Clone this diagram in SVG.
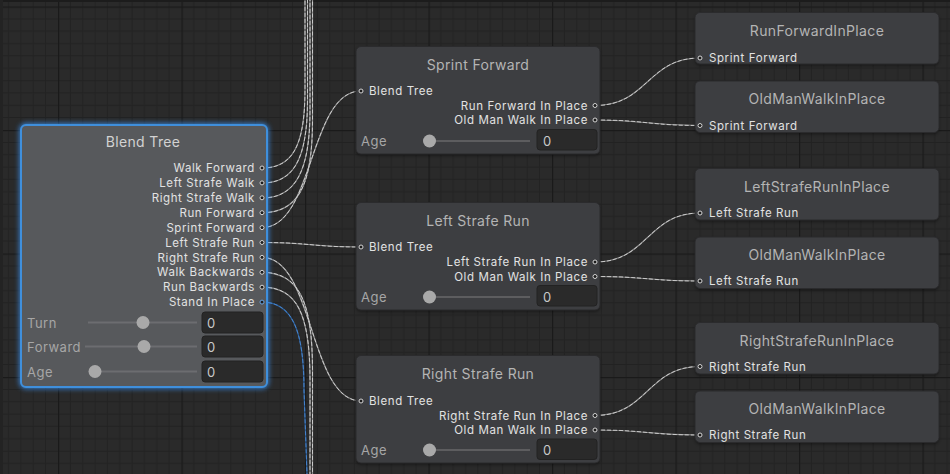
<svg xmlns="http://www.w3.org/2000/svg" xmlns:xlink="http://www.w3.org/1999/xlink" width="950" height="474" viewBox="0 0 950 474">
  <defs>
    <style>
      text { font-family: Inter, "Noto Sans", "Liberation Sans", sans-serif; }
      .node { fill: #3d3e41; stroke: #2b2b2d; stroke-width: 1; }
      .sel { fill: #57595c; stroke: #3f8fdc; stroke-width: 2; }
      .title { font-size: 14px; fill: #b4b4b4; text-anchor: middle; letter-spacing: 0.35px; }
      .title-sel { font-size: 14px; fill: #d2d2d2; text-anchor: middle; letter-spacing: 0.35px; }
      .port { font-size: 11.5px; fill: #e2e2e2; letter-spacing: 0.6px; }
      .port-r { font-size: 11.5px; fill: #e2e2e2; letter-spacing: 0.6px; text-anchor: end; }
      .label { font-size: 13px; fill: #a6a6a6; letter-spacing: 0.5px; }
      .value { font-size: 13px; fill: #c8c8c8; }
      .dot { fill: #1c1c1c; stroke: #d4d4d4; stroke-width: 1; }
      .dot-blue { fill: #1c1c1c; stroke: #6aa6e6; stroke-width: 1; }
      .track { stroke: #5d5d5f; stroke-width: 2; }
      .track-sel { stroke: #6c6d70; stroke-width: 2; }
      .knob { fill: #a9a9a9; }
      .field { fill: #2a2a2a; stroke: #222; stroke-width: 1; }
      .wire-base { fill: none; stroke: #8a8a8a; stroke-width: 1.2; }
      .wire-dash { fill: none; stroke: #d2d2d2; stroke-width: 0.9; stroke-dasharray: 4 2; }
      .wire-blue-base { fill: none; stroke: #2c5e98; stroke-width: 1.2; }
      .wire-blue-dash { fill: none; stroke: #4a88d2; stroke-width: 0.9; stroke-dasharray: 4 2; }
    </style>
    <pattern id="grid" patternUnits="userSpaceOnUse" x="58" y="6.5" width="123.5" height="123.5">
      <rect width="123.5" height="123.5" fill="#2a2a2a"/>
      <g stroke="#222222" stroke-width="1">
        <path d="M12.35 0V123.5M24.7 0V123.5M37.05 0V123.5M49.4 0V123.5M61.75 0V123.5M74.1 0V123.5M86.45 0V123.5M98.8 0V123.5M111.15 0V123.5"/>
        <path d="M0 12.35H123.5M0 24.7H123.5M0 37.05H123.5M0 49.4H123.5M0 61.75H123.5M0 74.1H123.5M0 86.45H123.5M0 98.8H123.5M0 111.15H123.5"/>
      </g>
      <path d="M0.5 0V123.5M0 0.5H123.5" stroke="#1a1a1a" stroke-width="1.5"/>
    </pattern>
    <filter id="glow" x="-10%" y="-10%" width="120%" height="120%">
      <feGaussianBlur stdDeviation="2.5"/>
    </filter>
    <filter id="shadow" x="-10%" y="-10%" width="120%" height="130%">
      <feGaussianBlur stdDeviation="1.5"/>
    </filter>

    <!-- wire geometry -->
    <path id="w1" d="M262,168 C290,168 305,150 305,90 L305,0"/>
    <path id="w2" d="M262,183 C292,183 307.5,162 307.5,100 L307.5,0"/>
    <path id="w3" d="M262,198 C295,198 310,172 310,110 L310,0"/>
    <path id="w4" d="M262,212.7 C298,212.7 312.5,186 312.5,120 L312.5,0"/>
    <path id="w5" d="M262,227.6 C314,227.6 309,91 361,91"/>
    <path id="w6" d="M262,242.5 C312,242.5 311,247 361,247"/>
    <path id="w7" d="M262,257.4 C314,257.4 309,401 361,401"/>
    <path id="w8" d="M262,272.3 C298,272.3 312.5,300 312.5,370 L312.5,474"/>
    <path id="w9" d="M262,287.2 C296,287.2 310,312 310,380 L310,474"/>
    <path id="w11" d="M595,105.5 C648,105.5 647,58 700,58"/>
    <path id="w12" d="M595,120 C648,120 647,125.5 700,125.5"/>
    <path id="w13" d="M595,262 C648,262 647,213 700,213"/>
    <path id="w14" d="M595,276.5 C648,276.5 647,281 700,281"/>
    <path id="w15" d="M595,415.5 C648,415.5 647,366.5 700,366.5"/>
    <path id="w16" d="M595,430 C648,430 647,435 700,435"/>
    <path id="w10" d="M262,302.1 C292,302.1 304,330 304,390 L307,474"/>
  </defs>

  <!-- canvas -->
  <rect width="950" height="474" fill="url(#grid)"/>
  <rect width="950" height="2" fill="#1c1c1c"/>
  <rect width="3" height="474" fill="#232323"/>

  <!-- connectors -->
  <g id="connectors">
    <g class="wire-base">
      <use xlink:href="#w1"/><use xlink:href="#w2"/><use xlink:href="#w3"/><use xlink:href="#w4"/>
      <use xlink:href="#w5"/><use xlink:href="#w6"/><use xlink:href="#w7"/><use xlink:href="#w8"/>
      <use xlink:href="#w9"/><use xlink:href="#w11"/><use xlink:href="#w12"/><use xlink:href="#w13"/>
      <use xlink:href="#w14"/><use xlink:href="#w15"/><use xlink:href="#w16"/>
    </g>
    <g class="wire-dash">
      <use xlink:href="#w1"/><use xlink:href="#w2"/><use xlink:href="#w3"/><use xlink:href="#w4"/>
      <use xlink:href="#w5"/><use xlink:href="#w6"/><use xlink:href="#w7"/><use xlink:href="#w8"/>
      <use xlink:href="#w9"/><use xlink:href="#w11"/><use xlink:href="#w12"/><use xlink:href="#w13"/>
      <use xlink:href="#w14"/><use xlink:href="#w15"/><use xlink:href="#w16"/>
    </g>
    <use class="wire-blue-base" xlink:href="#w10"/>
    <use class="wire-blue-dash" xlink:href="#w10"/>
  </g>

  <!-- root blend tree -->
  <g id="blend-tree">
    <rect x="19" y="123" width="250" height="266" rx="7" fill="#3a8ee8" opacity="0.8" filter="url(#glow)"/>
    <rect class="sel" x="21" y="125" width="246" height="262" rx="5"/>
    <text class="title-sel" x="143" y="147">Blend Tree</text>
    <g>
      <text class="port-r" x="255" y="172">Walk Forward</text>
      <text class="port-r" x="255" y="187">Left Strafe Walk</text>
      <text class="port-r" x="255" y="202">Right Strafe Walk</text>
      <text class="port-r" x="255" y="216.5">Run Forward</text>
      <text class="port-r" x="255" y="231.5">Sprint Forward</text>
      <text class="port-r" x="255" y="246.5">Left Strafe Run</text>
      <text class="port-r" x="255" y="261.5">Right Strafe Run</text>
      <text class="port-r" x="255" y="276">Walk Backwards</text>
      <text class="port-r" x="255" y="291">Run Backwards</text>
      <text class="port-r" x="255" y="306">Stand In Place</text>
      <circle class="dot" cx="262" cy="168" r="2"/>
      <circle class="dot" cx="262" cy="182.9" r="2"/>
      <circle class="dot" cx="262" cy="197.8" r="2"/>
      <circle class="dot" cx="262" cy="212.7" r="2"/>
      <circle class="dot" cx="262" cy="227.6" r="2"/>
      <circle class="dot" cx="262" cy="242.5" r="2"/>
      <circle class="dot" cx="262" cy="257.4" r="2"/>
      <circle class="dot" cx="262" cy="272.3" r="2"/>
      <circle class="dot" cx="262" cy="287.2" r="2"/>
      <circle class="dot-blue" cx="262" cy="302.1" r="2"/>
    </g>
    <text class="label" x="27" y="327.5">Turn</text>
    <line class="track-sel" x1="88" y1="322.5" x2="197" y2="322.5"/>
    <circle class="knob" cx="143" cy="322.5" r="6.5"/>
    <rect class="field" x="202" y="312" width="61" height="21" rx="3"/>
    <text class="value" x="207" y="327.5">0</text>

    <text class="label" x="27" y="351.5">Forward</text>
    <line class="track-sel" x1="85" y1="346.5" x2="197" y2="346.5"/>
    <circle class="knob" cx="144" cy="346.5" r="6.5"/>
    <rect class="field" x="202" y="336" width="61" height="21" rx="3"/>
    <text class="value" x="207" y="351.5">0</text>

    <text class="label" x="27" y="376.5">Age</text>
    <line class="track-sel" x1="92" y1="371.5" x2="197" y2="371.5"/>
    <circle class="knob" cx="95" cy="371.5" r="6.5"/>
    <rect class="field" x="202" y="361" width="61" height="21" rx="3"/>
    <text class="value" x="207" y="376.5">0</text>
  </g>

  <!-- second level blend trees -->
  <g id="sprint-forward">
    <rect x="356" y="48" width="244" height="108" rx="5" fill="#000" opacity="0.35" filter="url(#shadow)"/>
    <rect class="node" x="356" y="46.5" width="244" height="107.5" rx="5"/>
    <text class="title" x="478" y="69.5">Sprint Forward</text>
    <circle class="dot" cx="361" cy="91" r="2"/>
    <text class="port" x="369" y="95">Blend Tree</text>
    <text class="port-r" x="588" y="109.5">Run Forward In Place</text>
    <text class="port-r" x="588" y="124">Old Man Walk In Place</text>
    <circle class="dot" cx="595" cy="105.5" r="2"/>
    <circle class="dot" cx="595" cy="120" r="2"/>
    <text class="label" x="361" y="145.5">Age</text>
    <line class="track" x1="429" y1="141" x2="530" y2="141"/>
    <circle class="knob" cx="429.5" cy="141" r="6.5"/>
    <rect class="field" x="537" y="129.5" width="60" height="20.5" rx="3"/>
    <text class="value" x="543" y="145.5">0</text>
  </g>

  <g id="left-strafe-run">
    <rect x="356" y="204" width="244" height="108" rx="5" fill="#000" opacity="0.35" filter="url(#shadow)"/>
    <rect class="node" x="356" y="202.5" width="244" height="107.5" rx="5"/>
    <text class="title" x="478" y="225.5">Left Strafe Run</text>
    <circle class="dot" cx="361" cy="247" r="2"/>
    <text class="port" x="369" y="251">Blend Tree</text>
    <text class="port-r" x="588" y="266">Left Strafe Run In Place</text>
    <text class="port-r" x="588" y="280.5">Old Man Walk In Place</text>
    <circle class="dot" cx="595" cy="262" r="2"/>
    <circle class="dot" cx="595" cy="276.5" r="2"/>
    <text class="label" x="361" y="301.5">Age</text>
    <line class="track" x1="429" y1="297" x2="530" y2="297"/>
    <circle class="knob" cx="429.5" cy="297" r="6.5"/>
    <rect class="field" x="537" y="285.5" width="60" height="20.5" rx="3"/>
    <text class="value" x="543" y="301.5">0</text>
  </g>

  <g id="right-strafe-run">
    <rect x="356" y="357" width="244" height="108" rx="5" fill="#000" opacity="0.35" filter="url(#shadow)"/>
    <rect class="node" x="356" y="355.5" width="244" height="107.5" rx="5"/>
    <text class="title" x="478" y="378.5">Right Strafe Run</text>
    <circle class="dot" cx="361" cy="401" r="2"/>
    <text class="port" x="369" y="405">Blend Tree</text>
    <text class="port-r" x="588" y="419.5">Right Strafe Run In Place</text>
    <text class="port-r" x="588" y="434">Old Man Walk In Place</text>
    <circle class="dot" cx="595" cy="415.5" r="2"/>
    <circle class="dot" cx="595" cy="430" r="2"/>
    <text class="label" x="361" y="455">Age</text>
    <line class="track" x1="429" y1="450" x2="530" y2="450"/>
    <circle class="knob" cx="429.5" cy="450" r="6.5"/>
    <rect class="field" x="537" y="439" width="60" height="20.5" rx="3"/>
    <text class="value" x="543" y="455">0</text>
  </g>

  <!-- clip leaves -->
  <g id="run-forward-in-place">
    <rect x="695" y="14" width="244" height="52" rx="5" fill="#000" opacity="0.35" filter="url(#shadow)"/>
    <rect class="node" x="695" y="12.5" width="244" height="51.5" rx="5"/>
    <text class="title" x="817" y="35.5">RunForwardInPlace</text>
    <circle class="dot" cx="700" cy="58" r="2"/>
    <text class="port" x="709" y="62">Sprint Forward</text>
  </g>

  <g id="old-man-walk-1">
    <rect x="695" y="82.5" width="244" height="52" rx="5" fill="#000" opacity="0.35" filter="url(#shadow)"/>
    <rect class="node" x="695" y="81" width="244" height="51.5" rx="5"/>
    <text class="title" x="817" y="104">OldManWalkInPlace</text>
    <circle class="dot" cx="700" cy="125.5" r="2"/>
    <text class="port" x="709" y="129.5">Sprint Forward</text>
  </g>

  <g id="left-strafe-run-in-place">
    <rect x="695" y="170" width="244" height="52" rx="5" fill="#000" opacity="0.35" filter="url(#shadow)"/>
    <rect class="node" x="695" y="168.5" width="244" height="51.5" rx="5"/>
    <text class="title" x="817" y="191.5">LeftStrafeRunInPlace</text>
    <circle class="dot" cx="700" cy="213" r="2"/>
    <text class="port" x="709" y="217">Left Strafe Run</text>
  </g>

  <g id="old-man-walk-2">
    <rect x="695" y="238.5" width="244" height="52" rx="5" fill="#000" opacity="0.35" filter="url(#shadow)"/>
    <rect class="node" x="695" y="237" width="244" height="51.5" rx="5"/>
    <text class="title" x="817" y="260">OldManWalkInPlace</text>
    <circle class="dot" cx="700" cy="281" r="2"/>
    <text class="port" x="709" y="285">Left Strafe Run</text>
  </g>

  <g id="right-strafe-run-in-place">
    <rect x="695" y="324" width="244" height="52" rx="5" fill="#000" opacity="0.35" filter="url(#shadow)"/>
    <rect class="node" x="695" y="322.5" width="244" height="51.5" rx="5"/>
    <text class="title" x="817" y="345.5">RightStrafeRunInPlace</text>
    <circle class="dot" cx="700" cy="366.5" r="2"/>
    <text class="port" x="709" y="370.5">Right Strafe Run</text>
  </g>

  <g id="old-man-walk-3">
    <rect x="695" y="392.5" width="244" height="52" rx="5" fill="#000" opacity="0.35" filter="url(#shadow)"/>
    <rect class="node" x="695" y="391" width="244" height="51.5" rx="5"/>
    <text class="title" x="817" y="414">OldManWalkInPlace</text>
    <circle class="dot" cx="700" cy="435" r="2"/>
    <text class="port" x="709" y="439">Right Strafe Run</text>
  </g>
</svg>
